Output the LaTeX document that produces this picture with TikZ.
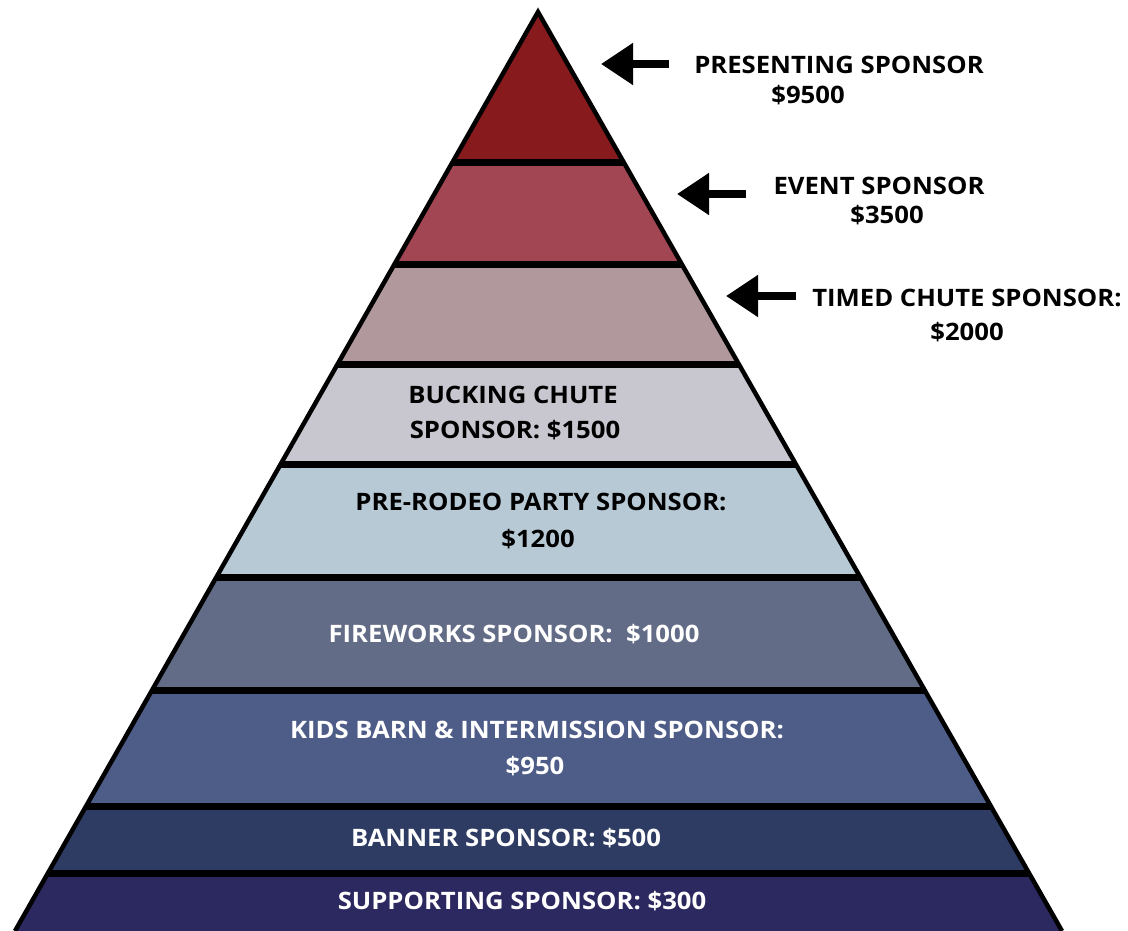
\documentclass[tikz,border=0pt]{standalone}
\usepackage{fontspec}
\setmainfont{Open Sans}
\newfontfamily\tierfont{Open Sans}[FakeStretch=1.07]
\usetikzlibrary{arrows.meta}

\definecolor{tierA}{HTML}{861A1D}
\definecolor{tierB}{HTML}{A24653}
\definecolor{tierC}{HTML}{B0989C}
\definecolor{tierD}{HTML}{C8C6CF}
\definecolor{tierE}{HTML}{B8C9D6}
\definecolor{tierF}{HTML}{636C87}
\definecolor{tierG}{HTML}{4E5C88}
\definecolor{tierH}{HTML}{2E3B63}
\definecolor{tierI}{HTML}{2C2860}

\begin{document}
\begin{tikzpicture}[x=1pt,y=-1pt,
	txt/.style={font=\tierfont\fontsize{24}{28}\selectfont\bfseries, inner sep=0pt, text height=17pt, text depth=0pt},
	wtxt/.style={txt, text=white},
	pointer/.style={line width=8pt, -{Triangle[length=32pt,width=40pt]}},
	divider/.style={line width=7pt}]
	\useasboundingbox (0,0) rectangle (1128,931);

	\coordinate (top) at (538, 12);
	\coordinate (bl) at (15, 931);
	\coordinate (br) at (1062, 931);

	% tiers
	\begin{scope}
		\clip (top) -- (br) -- (bl) -- cycle;
		\fill[tierA] (0, 0)   rectangle (1128, 163);
		\fill[tierB] (0, 163) rectangle (1128, 264);
		\fill[tierC] (0, 264) rectangle (1128, 364);
		\fill[tierD] (0, 364) rectangle (1128, 464);
		\fill[tierE] (0, 464) rectangle (1128, 577);
		\fill[tierF] (0, 577) rectangle (1128, 690);
		\fill[tierG] (0, 690) rectangle (1128, 806);
		\fill[tierH] (0, 806) rectangle (1128, 873);
		\fill[tierI] (0, 873) rectangle (1128, 940);
		\foreach \y in {163, 264, 364, 464, 577, 690, 806, 873}
			\draw[divider] (0, \y) -- (1128, \y);
	\end{scope}
	\draw[line width=4.5pt, line join=miter] (bl) -- (top) -- (br);

	% labels outside
	\node[txt] (pres)  at (839, 65)  {PRESENTING SPONSOR};
	\node[txt] (presv) at (808, 95)  {\$9500};
	\node[txt] (evt)   at (879, 186) {EVENT SPONSOR};
	\node[txt] (evtv)  at (887, 215) {\$3500};
	\node[txt] (tim)   at (967, 298) {TIMED CHUTE SPONSOR:};
	\node[txt] (timv)  at (967, 332) {\$2000};

	% labels inside
	\node[txt] (buck)  at (513, 395) {BUCKING CHUTE};
	\node[txt] (buckv) at (515, 430) {SPONSOR: \$1500};
	\node[txt] (pre)   at (541, 502) {PRE-RODEO PARTY SPONSOR:};
	\node[txt] (prev)  at (538, 539) {\$1200};
	\node[wtxt] (fire) at (514, 634) {FIREWORKS SPONSOR:\ \ \$1000};
	\node[wtxt] (kids) at (537, 730) {KIDS BARN \& INTERMISSION SPONSOR:};
	\node[wtxt] (kidsv) at (535, 766) {\$950};
	\node[wtxt] (ban)  at (506, 838) {BANNER SPONSOR: \$500};
	\node[wtxt] (sup)  at (522, 901) {SUPPORTING SPONSOR: \$300};

	% arrows
	\coordinate (a1) at (669, 64);
	\coordinate (a1t) at (601, 64);
	\coordinate (a2) at (746, 194);
	\coordinate (a2t) at (677, 194);
	\coordinate (a3) at (796, 296);
	\coordinate (a3t) at (726, 296);
	\draw[pointer] (a1) -- (a1t);
	\draw[pointer] (a2) -- (a2t);
	\draw[pointer] (a3) -- (a3t);
\end{tikzpicture}
\end{document}
